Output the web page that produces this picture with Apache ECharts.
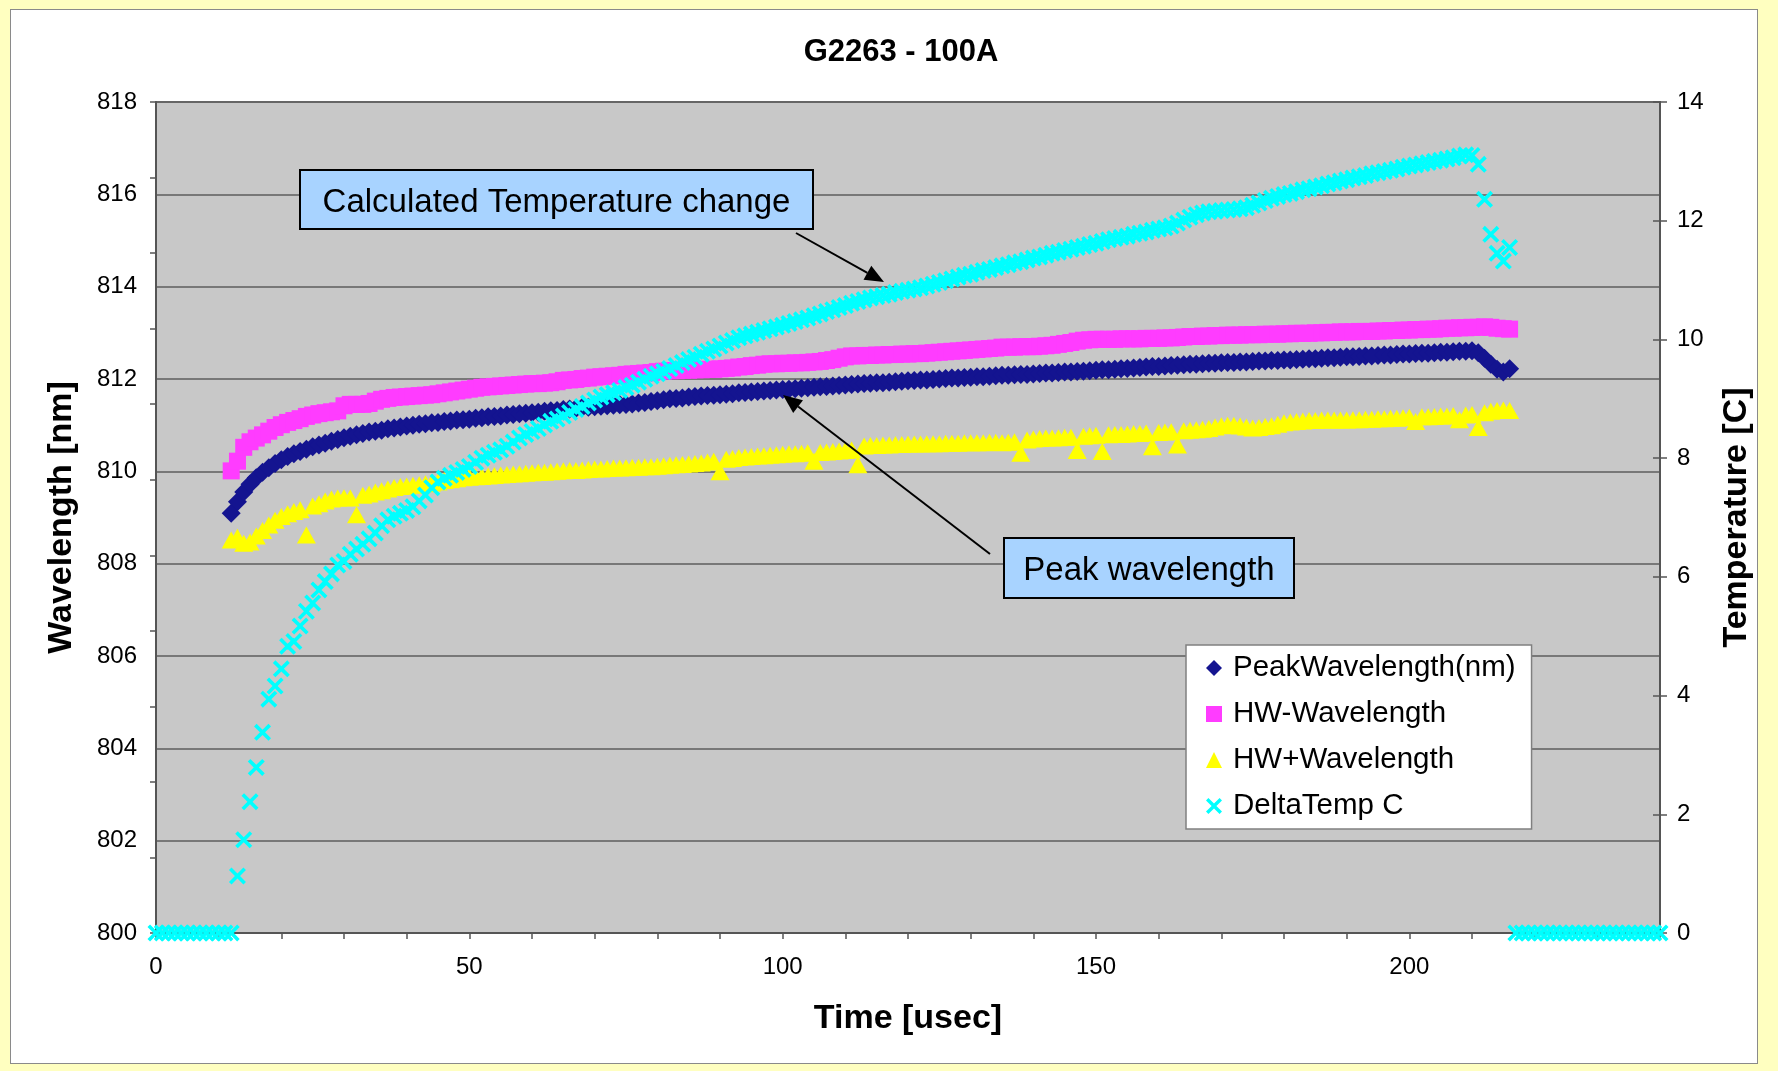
<!DOCTYPE html>
<html>
<head>
<meta charset="utf-8">
<title>G2263 - 100A</title>
<script src="https://cdn.jsdelivr.net/npm/echarts@6/dist/echarts.min.js"></script>
<style>
  html, body { margin: 0; padding: 0; background: #ffffc0; overflow: hidden; }
  #panel { position: absolute; left: 10px; top: 9px; width: 1746px; height: 1053px; background: #ffffff; border: 1.5px solid #8a8a8a; }
  #chart { position: absolute; left: 0; top: 0; width: 1778px; height: 1071px; }
</style>
</head>
<body>
<div id="panel"></div>
<div id="chart"></div>
<script>
// ---------------- DATA ----------------
const seriesNames = ['PeakWavelength(nm)', 'HW-Wavelength', 'HW+Wavelength', 'DeltaTemp C'];

// sampling grid (usec)
const TIME_STEP = 1;
const WAVELENGTH_T0 = 12;   // first sample of the wavelength series
const DELTATEMP_T0 = 0;     // first sample of the temperature series

// Peak wavelength [nm], t = 12 .. 216
const peakWavelength = [
  809.09, 809.34, 809.55, 809.72, 809.86, 809.98, 810.08, 810.17, 810.25, 810.32,
  810.38, 810.43, 810.48, 810.53, 810.57, 810.61, 810.65, 810.69, 810.73, 810.76,
  810.79, 810.82, 810.85, 810.87, 810.89, 810.92, 810.94, 810.96, 810.98, 811.00,
  811.02, 811.03, 811.05, 811.06, 811.08, 811.09, 811.11, 811.12, 811.13, 811.15,
  811.16, 811.18, 811.19, 811.20, 811.22, 811.23, 811.25, 811.26, 811.27, 811.28,
  811.30, 811.31, 811.32, 811.34, 811.35, 811.36, 811.38, 811.39, 811.40, 811.41,
  811.42, 811.43, 811.44, 811.45, 811.46, 811.48, 811.49, 811.51, 811.53, 811.55,
  811.57, 811.58, 811.59, 811.61, 811.62, 811.63, 811.64, 811.65, 811.66, 811.67,
  811.68, 811.70, 811.71, 811.72, 811.73, 811.74, 811.75, 811.76, 811.77, 811.78,
  811.79, 811.80, 811.81, 811.82, 811.83, 811.84, 811.85, 811.86, 811.87, 811.88,
  811.89, 811.90, 811.91, 811.92, 811.92, 811.93, 811.94, 811.95, 811.96, 811.97,
  811.98, 811.98, 811.99, 812.00, 812.01, 812.02, 812.02, 812.03, 812.04, 812.05,
  812.05, 812.06, 812.07, 812.08, 812.08, 812.09, 812.10, 812.10, 812.11, 812.12,
  812.13, 812.13, 812.14, 812.15, 812.15, 812.16, 812.17, 812.18, 812.19, 812.20,
  812.20, 812.21, 812.22, 812.23, 812.24, 812.25, 812.26, 812.27, 812.27, 812.28,
  812.29, 812.30, 812.31, 812.32, 812.32, 812.33, 812.34, 812.34, 812.35, 812.36,
  812.36, 812.37, 812.37, 812.38, 812.39, 812.39, 812.40, 812.40, 812.41, 812.41,
  812.42, 812.43, 812.44, 812.44, 812.45, 812.46, 812.46, 812.47, 812.48, 812.48,
  812.49, 812.50, 812.50, 812.51, 812.52, 812.52, 812.53, 812.54, 812.54, 812.55,
  812.56, 812.56, 812.57, 812.58, 812.58, 812.59, 812.60, 812.60, 812.61, 812.57,
  812.45, 812.32, 812.21, 812.15, 812.22
];

// HW- wavelength [nm], t = 12 .. 216
const hwMinusWavelength = [
  810.01, 810.22, 810.52, 810.64, 810.72, 810.79, 810.87, 810.95, 811.01, 811.06,
  811.10, 811.14, 811.19, 811.22, 811.25, 811.27, 811.29, 811.31, 811.42, 811.45,
  811.45, 811.45, 811.47, 811.52, 811.56, 811.58, 811.60, 811.61, 811.62, 811.63,
  811.64, 811.65, 811.66, 811.68, 811.70, 811.72, 811.74, 811.76, 811.78, 811.80,
  811.82, 811.83, 811.84, 811.85, 811.86, 811.87, 811.88, 811.89, 811.90, 811.90,
  811.91, 811.92, 811.94, 811.97, 811.98, 811.99, 812.01, 812.02, 812.04, 812.05,
  812.06, 812.07, 812.08, 812.10, 812.11, 812.12, 812.13, 812.14, 812.16, 812.17,
  812.18, 812.18, 812.19, 812.19, 812.20, 812.20, 812.21, 812.21, 812.22, 812.23,
  812.24, 812.26, 812.27, 812.29, 812.30, 812.32, 812.33, 812.33, 812.34, 812.34,
  812.35, 812.35, 812.36, 812.37, 812.38, 812.40, 812.42, 812.45, 812.48, 812.50,
  812.50, 812.51, 812.51, 812.52, 812.52, 812.53, 812.53, 812.54, 812.54, 812.55,
  812.55, 812.56, 812.57, 812.58, 812.59, 812.60, 812.61, 812.62, 812.63, 812.64,
  812.65, 812.66, 812.67, 812.69, 812.69, 812.69, 812.70, 812.70, 812.70, 812.71,
  812.72, 812.73, 812.75, 812.77, 812.79, 812.82, 812.84, 812.85, 812.86, 812.86,
  812.86, 812.86, 812.87, 812.87, 812.87, 812.87, 812.88, 812.88, 812.88, 812.89,
  812.89, 812.90, 812.91, 812.92, 812.92, 812.93, 812.93, 812.94, 812.94, 812.95,
  812.95, 812.95, 812.96, 812.96, 812.96, 812.97, 812.97, 812.97, 812.98, 812.98,
  812.99, 812.99, 812.99, 813.00, 813.00, 813.01, 813.01, 813.02, 813.02, 813.02,
  813.03, 813.03, 813.03, 813.04, 813.04, 813.05, 813.05, 813.06, 813.06, 813.07,
  813.07, 813.08, 813.08, 813.09, 813.10, 813.10, 813.11, 813.11, 813.12, 813.12,
  813.13, 813.12, 813.10, 813.09, 813.08
];

// HW+ wavelength [nm], t = 12 .. 216
const hwPlusWavelength = [
  808.51, 808.57, 808.44, 808.47, 808.60, 808.72, 808.84, 808.94, 809.02, 809.08,
  809.13, 809.17, 808.62, 809.25, 809.30, 809.36, 809.40, 809.42, 809.43, 809.42,
  809.06, 809.48, 809.51, 809.55, 809.58, 809.62, 809.65, 809.67, 809.68, 809.70,
  809.71, 809.73, 809.75, 809.77, 809.80, 809.82, 809.84, 809.86, 809.87, 809.88,
  809.89, 809.90, 809.91, 809.92, 809.93, 809.94, 809.95, 809.96, 809.97, 809.98,
  809.98, 809.99, 810.00, 810.01, 810.02, 810.02, 810.03, 810.04, 810.05, 810.05,
  810.06, 810.07, 810.07, 810.08, 810.09, 810.09, 810.10, 810.10, 810.11, 810.12,
  810.13, 810.14, 810.15, 810.16, 810.17, 810.18, 810.20, 810.22, 809.99, 810.26,
  810.28, 810.30, 810.31, 810.32, 810.33, 810.34, 810.35, 810.36, 810.37, 810.38,
  810.38, 810.39, 810.40, 810.22, 810.41, 810.42, 810.43, 810.44, 810.45, 810.46,
  810.14, 810.55, 810.56, 810.56, 810.57, 810.57, 810.58, 810.58, 810.59, 810.59,
  810.59, 810.60, 810.60, 810.60, 810.61, 810.61, 810.61, 810.62, 810.62, 810.62,
  810.62, 810.63, 810.63, 810.62, 810.63, 810.64, 810.39, 810.68, 810.70, 810.71,
  810.72, 810.72, 810.73, 810.74, 810.74, 810.45, 810.76, 810.77, 810.78, 810.43,
  810.79, 810.80, 810.80, 810.81, 810.82, 810.82, 810.83, 810.53, 810.84, 810.85,
  810.86, 810.57, 810.88, 810.89, 810.90, 810.91, 810.93, 810.96, 810.99, 811.00,
  811.00, 810.98, 810.96, 810.94, 810.95, 810.97, 810.99, 811.02, 811.05, 811.07,
  811.08, 811.09, 811.10, 811.10, 811.11, 811.11, 811.11, 811.11, 811.11, 811.12,
  811.12, 811.13, 811.13, 811.14, 811.14, 811.15, 811.15, 811.16, 811.17, 811.08,
  811.18, 811.18, 811.19, 811.20, 811.20, 811.21, 811.12, 811.22, 811.23, 810.95,
  811.27, 811.30, 811.32, 811.33, 811.32
];

// Delta temperature [C], t = 0 .. 240
const deltaTemp = [
  0, 0, 0, 0, 0, 0, 0, 0, 0, 0,
  0, 0, 0, 0.96, 1.57, 2.21, 2.79, 3.38, 3.94, 4.16,
  4.45, 4.83, 4.91, 5.17, 5.42, 5.56, 5.78, 5.92, 6.05, 6.20,
  6.26, 6.38, 6.47, 6.55, 6.64, 6.74, 6.86, 6.96, 7.02, 7.07,
  7.12, 7.18, 7.28, 7.38, 7.50, 7.60, 7.66, 7.71, 7.76, 7.81,
  7.86, 7.93, 8.00, 8.05, 8.10, 8.14, 8.20, 8.27, 8.34, 8.40,
  8.45, 8.50, 8.56, 8.62, 8.66, 8.71, 8.77, 8.82, 8.87, 8.93,
  8.98, 9.03, 9.07, 9.10, 9.14, 9.19, 9.23, 9.28, 9.33, 9.38,
  9.42, 9.46, 9.51, 9.56, 9.61, 9.66, 9.70, 9.75, 9.80, 9.84,
  9.89, 9.94, 9.98, 10.03, 10.06, 10.09, 10.12, 10.15, 10.18, 10.21,
  10.24, 10.27, 10.30, 10.33, 10.36, 10.40, 10.43, 10.47, 10.50, 10.54,
  10.57, 10.61, 10.64, 10.67, 10.70, 10.72, 10.74, 10.76, 10.79, 10.81,
  10.83, 10.85, 10.87, 10.90, 10.93, 10.96, 10.99, 11.02, 11.05, 11.08,
  11.10, 11.13, 11.16, 11.18, 11.21, 11.24, 11.26, 11.29, 11.31, 11.34,
  11.37, 11.39, 11.42, 11.45, 11.47, 11.50, 11.52, 11.55, 11.57, 11.60,
  11.62, 11.65, 11.68, 11.70, 11.72, 11.74, 11.77, 11.79, 11.81, 11.84,
  11.86, 11.88, 11.91, 11.96, 12.01, 12.06, 12.10, 12.13, 12.15, 12.16,
  12.17, 12.18, 12.19, 12.20, 12.22, 12.26, 12.30, 12.34, 12.38, 12.41,
  12.44, 12.46, 12.49, 12.52, 12.54, 12.57, 12.59, 12.62, 12.64, 12.67,
  12.69, 12.72, 12.74, 12.76, 12.79, 12.81, 12.83, 12.85, 12.87, 12.90,
  12.92, 12.94, 12.96, 12.98, 13.00, 13.02, 13.04, 13.06, 13.09, 13.11,
  13.10, 12.95, 12.36, 11.77, 11.45, 11.32, 11.55, 0, 0, 0,
  0, 0, 0, 0, 0, 0, 0, 0, 0, 0,
  0, 0, 0, 0, 0, 0, 0, 0, 0, 0,
  0
];

// axis ranges / ticks
const timeAxis = { min: 0, max: 240, tickStep: 10, labelStep: 50 };
const wavelengthAxis = { min: 800, max: 818, step: 2 };
const tempAxis = { min: 0, max: 14, step: 2 };

const chartTitle = 'G2263 - 100A';
const annotationTexts = ['Calculated Temperature change', 'Peak wavelength'];

// ---------------- CHART ----------------
const FONT = '"Liberation Sans", Arial, Helvetica, sans-serif';
const crossPath = 'path://M1.8,0L6,4.2L10.2,0L12,1.8L7.8,6L12,10.2L10.2,12L6,7.8L1.8,12L0,10.2L4.2,6L0,1.8Z';

function toPairs(t0, values) {
  return values.map((v, i) => [t0 + i * TIME_STEP, v]);
}

function arrow(x1, y1, x2, y2) {
  const dx = x2 - x1, dy = y2 - y1;
  const len = Math.sqrt(dx * dx + dy * dy);
  const ux = dx / len, uy = dy / len;
  const headLen = 19, headHalf = 8;
  const bx = x2 - ux * headLen, by = y2 - uy * headLen;
  return [
    { type: 'line', z: 100, shape: { x1: x1, y1: y1, x2: bx, y2: by }, style: { stroke: '#000', lineWidth: 2 } },
    { type: 'polygon', z: 100, shape: { points: [[x2, y2], [bx - uy * headHalf, by + ux * headHalf], [bx + uy * headHalf, by - ux * headHalf]] }, style: { fill: '#000' } }
  ];
}

const axisTitleStyle = { fontSize: 34, fontWeight: 'bold', color: '#000', fontFamily: FONT };
const tickLabelStyle = { fontSize: 24, color: '#000', fontFamily: FONT };
const axisLineStyle = { color: '#555555', width: 2 };

const chart = echarts.init(document.getElementById('chart'), null, { renderer: 'canvas' });

const option = {
  animation: false,
  backgroundColor: 'transparent',
  textStyle: { fontFamily: FONT },
  grid: {
    left: 156, top: 102, width: 1504, height: 831,
    show: true, backgroundColor: '#c8c8c8', borderColor: '#808080', borderWidth: 2
  },
  xAxis: {
    type: 'value', min: timeAxis.min, max: timeAxis.max, interval: timeAxis.tickStep,
    name: 'Time [usec]', nameLocation: 'middle', nameGap: 69, nameTextStyle: axisTitleStyle,
    axisLine: { show: true, onZero: false, lineStyle: axisLineStyle },
    axisTick: { show: true, inside: false, length: 6, lineStyle: { color: '#555555', width: 1.5 } },
    axisLabel: Object.assign({ margin: 22, formatter: v => (v % timeAxis.labelStep === 0 ? String(v) : '') }, tickLabelStyle),
    splitLine: { show: false }
  },
  yAxis: [
    {
      type: 'value', position: 'left', min: wavelengthAxis.min, max: wavelengthAxis.max, interval: wavelengthAxis.step,
      name: 'Wavelength [nm]', nameLocation: 'middle', nameGap: 77, nameRotate: 90, nameTextStyle: axisTitleStyle,
      axisLine: { show: true, onZero: false, lineStyle: axisLineStyle },
      axisTick: { show: false },
      axisLabel: Object.assign({ margin: 19 }, tickLabelStyle),
      splitLine: { show: true, lineStyle: { color: '#5e5e5e', width: 1.5 } }
    },
    {
      type: 'value', position: 'right', min: tempAxis.min, max: tempAxis.max, interval: tempAxis.step,
      name: 'Temperature [C]', nameLocation: 'middle', nameGap: 60, nameRotate: 90, nameTextStyle: axisTitleStyle,
      axisLine: { show: true, onZero: false, lineStyle: axisLineStyle },
      axisTick: { show: true, inside: false, length: 7, lineStyle: { color: '#555555', width: 1.5 } },
      axisLabel: Object.assign({ margin: 17 }, tickLabelStyle),
      splitLine: { show: false }
    },
    {
      // helper: tick marks of the left axis (11 equal divisions, as drawn in the original)
      type: 'value', position: 'left', min: 0, max: 11, interval: 1,
      axisLine: { show: false, onZero: false },
      axisTick: { show: true, inside: false, length: 6, lineStyle: { color: '#555555', width: 1.5 } },
      axisLabel: { show: false }, splitLine: { show: false }
    },
    {
      // helper: inner half of the crossing ticks of the right axis
      type: 'value', position: 'right', min: tempAxis.min, max: tempAxis.max, interval: tempAxis.step,
      axisLine: { show: false, onZero: false },
      axisTick: { show: true, inside: true, length: 7, lineStyle: { color: '#555555', width: 1.5 } },
      axisLabel: { show: false }, splitLine: { show: false }
    }
  ],
  legend: {
    orient: 'vertical', left: 1186, top: 645,
    backgroundColor: '#ffffff', borderColor: '#808080', borderWidth: 1.5, borderRadius: 0,
    padding: [8, 16, 8, 20], itemGap: 16, itemWidth: 16, itemHeight: 16,
    textStyle: { fontSize: 29.5, color: '#000', fontFamily: FONT, lineHeight: 30, padding: [0, 0, 0, 6] },
    selectedMode: false,
    data: seriesNames
  },
  series: [
    {
      name: seriesNames[0], type: 'scatter', yAxisIndex: 0, clip: false, silent: true,
      symbol: 'diamond', symbolSize: 19,
      itemStyle: { color: '#141490', opacity: 1 }, emphasis: { disabled: true },
      data: toPairs(WAVELENGTH_T0, peakWavelength)
    },
    {
      name: seriesNames[1], type: 'scatter', yAxisIndex: 0, clip: false, silent: true,
      symbol: 'rect', symbolSize: 17,
      itemStyle: { color: '#ff3cff', opacity: 1 }, emphasis: { disabled: true },
      data: toPairs(WAVELENGTH_T0, hwMinusWavelength)
    },
    {
      name: seriesNames[2], type: 'scatter', yAxisIndex: 0, clip: false, silent: true,
      symbol: 'triangle', symbolSize: [19, 17],
      itemStyle: { color: '#ffff00', opacity: 1 }, emphasis: { disabled: true },
      data: toPairs(WAVELENGTH_T0, hwPlusWavelength)
    },
    {
      name: seriesNames[3], type: 'scatter', yAxisIndex: 1, clip: false, silent: true,
      symbol: crossPath, symbolSize: 17,
      itemStyle: { color: '#00ffff', opacity: 1 }, emphasis: { disabled: true },
      data: toPairs(DELTATEMP_T0, deltaTemp)
    }
  ],
  graphic: [
    { type: 'text', z: 100, x: 901, y: 52, style: { text: chartTitle, font: 'bold 31px ' + FONT, fill: '#000', textAlign: 'center', textVerticalAlign: 'middle' } },
    { type: 'rect', z: 100, shape: { x: 300, y: 170, width: 513, height: 59 }, style: { fill: '#a8d3ff', stroke: '#000', lineWidth: 2 } },
    { type: 'text', z: 101, x: 556.5, y: 203, style: { text: annotationTexts[0], font: '33px ' + FONT, fill: '#000', textAlign: 'center', textVerticalAlign: 'middle' } },
    { type: 'rect', z: 100, shape: { x: 1004, y: 538, width: 290, height: 60 }, style: { fill: '#a8d3ff', stroke: '#000', lineWidth: 2 } },
    { type: 'text', z: 101, x: 1149, y: 571, style: { text: annotationTexts[1], font: '33px ' + FONT, fill: '#000', textAlign: 'center', textVerticalAlign: 'middle' } }
  ].concat(arrow(796, 233, 884, 282)).concat(arrow(990, 554, 783, 395))
};

chart.setOption(option);
</script>
</body>
</html>
